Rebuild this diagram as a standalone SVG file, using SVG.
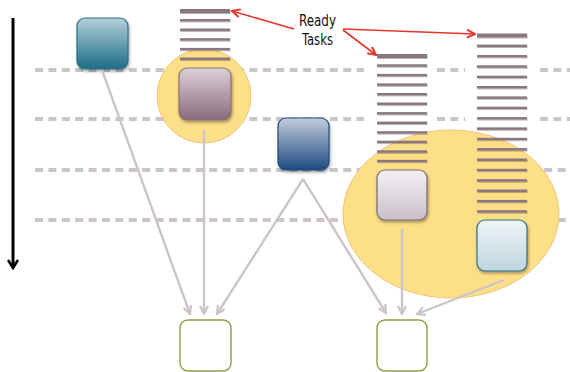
<svg xmlns="http://www.w3.org/2000/svg" width="570" height="372" viewBox="0 0 570 372">
<style>
.dash{stroke:#cbc4ca;stroke-width:4;stroke-dasharray:8 5.4;fill:none}
.conn{stroke:#cdc4ca;stroke-width:2.4;fill:none;marker-end:url(#gv)}
.red{stroke:#e2362a;stroke-width:1.6;fill:none;marker-end:url(#rv)}
.bar{fill:#8b7682}
.bar-t{fill:#8b7682}
.hl{fill:#fddf88;stroke:#f1c47c;stroke-width:1}
.out{fill:#fff;stroke:#8f9d45;stroke-width:1.4}
.lbl{font-family:"DejaVu Sans Condensed","Liberation Sans Narrow","Liberation Sans",sans-serif;font-size:16px;fill:#111;text-anchor:middle}
</style>
<defs>
<filter id="sh" x="-20%" y="-20%" width="150%" height="150%"><feDropShadow dx="1" dy="2" stdDeviation="1.4" flood-color="#000" flood-opacity="0.35"/></filter>
<filter id="bs" x="-5%" y="-50%" width="110%" height="250%"><feDropShadow dx="0.5" dy="1" stdDeviation="0.6" flood-color="#000" flood-opacity="0.3"/></filter>
<linearGradient id="gTeal" x1="0" y1="0" x2="0" y2="1"><stop offset="0" stop-color="#b4cfd9"/><stop offset="1" stop-color="#1d6d87"/></linearGradient>
<linearGradient id="gPur" x1="0" y1="0" x2="0" y2="1"><stop offset="0" stop-color="#ddd0d9"/><stop offset="1" stop-color="#896b7d"/></linearGradient>
<linearGradient id="gBlue" x1="0" y1="0" x2="0" y2="1"><stop offset="0" stop-color="#c4cddd"/><stop offset="1" stop-color="#1b4a81"/></linearGradient>
<linearGradient id="gLPur" x1="0" y1="0" x2="0" y2="1"><stop offset="0" stop-color="#f3f1f5"/><stop offset="1" stop-color="#cabec8"/></linearGradient>
<linearGradient id="gLBlue" x1="0" y1="0" x2="0" y2="1"><stop offset="0" stop-color="#eff4f7"/><stop offset="1" stop-color="#bfd4de"/></linearGradient>
<marker id="gv" viewBox="0 0 10 10" refX="9" refY="5" markerWidth="10" markerHeight="10" markerUnits="userSpaceOnUse" orient="auto"><path d="M1,1 L9,5 L1,9" fill="none" stroke="#cdc4ca" stroke-width="2.2"/></marker>
<marker id="rv" viewBox="0 0 10 10" refX="9" refY="5" markerWidth="10" markerHeight="10" markerUnits="userSpaceOnUse" orient="auto"><path d="M1,1 L9,5 L1,9" fill="none" stroke="#e2362a" stroke-width="2"/></marker>
<marker id="bk" viewBox="0 0 12 12" refX="10" refY="6" markerWidth="12" markerHeight="12" markerUnits="userSpaceOnUse" orient="auto"><path d="M2,1 L10,6 L2,11" fill="none" stroke="#000" stroke-width="2.6"/></marker>
</defs>

<g id="timeline">
<line x1="13" y1="18" x2="13" y2="268" stroke="#000" stroke-width="3" marker-end="url(#bk)"/>
</g>

<g id="levels">
<path class="dash" d="M35,70 H364 M437,70 H465 M540,70 H570"/>
<path class="dash" d="M35,119 H364 M437,119 H465 M540,119 H570"/>
<path class="dash" d="M35,170 H570"/>
<path class="dash" d="M35,220 H570"/>
</g>

<g id="highlight-1"><circle class="hl" cx="204" cy="96" r="47"/></g>
<g id="highlight-2"><ellipse class="hl" cx="451" cy="214" rx="108" ry="84"/></g>

<g id="tasks-1" filter="url(#bs)">
<rect class="bar" x="180" y="9" width="50" height="4"/>
<rect class="bar" x="180" y="19" width="50" height="2.4"/>
<rect class="bar" x="180" y="28.5" width="50" height="2.4"/>
<rect class="bar" x="180" y="38.2" width="50" height="2.4"/>
<rect class="bar" x="180" y="47.9" width="50" height="2.4"/>
<rect class="bar" x="180" y="57.5" width="50" height="2.4"/>
</g>

<g id="tasks-2" filter="url(#bs)">
<rect class="bar" x="377" y="54" width="50" height="4"/>
<rect class="bar" x="377" y="64.3" width="50" height="2.4"/>
<rect class="bar" x="377" y="73.9" width="50" height="2.4"/>
<rect class="bar" x="377" y="83.4" width="50" height="2.4"/>
<rect class="bar" x="377" y="93" width="50" height="2.4"/>
<rect class="bar" x="377" y="102.5" width="50" height="2.4"/>
<rect class="bar" x="377" y="112.1" width="50" height="2.4"/>
<rect class="bar" x="377" y="121.6" width="50" height="2.4"/>
<rect class="bar" x="377" y="131.2" width="50" height="2.4"/>
<rect class="bar" x="377" y="140.7" width="50" height="2.4"/>
<rect class="bar" x="377" y="150.3" width="50" height="2.4"/>
<rect class="bar" x="377" y="159.8" width="50" height="2.4"/>
</g>

<g id="tasks-3" filter="url(#bs)">
<rect class="bar" x="477" y="33.5" width="50" height="4"/>
<rect class="bar" x="477" y="44.6" width="50" height="2.4"/>
<rect class="bar" x="477" y="55" width="50" height="2.4"/>
<rect class="bar" x="477" y="65.3" width="50" height="2.4"/>
<rect class="bar" x="477" y="75.7" width="50" height="2.4"/>
<rect class="bar" x="477" y="86" width="50" height="2.4"/>
<rect class="bar" x="477" y="96.4" width="50" height="2.4"/>
<rect class="bar" x="477" y="106.7" width="50" height="2.4"/>
<rect class="bar" x="477" y="117.1" width="50" height="2.4"/>
<rect class="bar" x="477" y="127.4" width="50" height="2.4"/>
<rect class="bar" x="477" y="137.8" width="50" height="2.4"/>
<rect class="bar" x="477" y="148.1" width="50" height="2.4"/>
<rect class="bar" x="477" y="158.5" width="50" height="2.4"/>
<rect class="bar" x="477" y="168.8" width="50" height="2.4"/>
<rect class="bar" x="477" y="179.2" width="50" height="2.4"/>
<rect class="bar" x="477" y="189.5" width="50" height="2.4"/>
<rect class="bar" x="477" y="199.9" width="50" height="2.4"/>
<rect class="bar" x="477" y="210.2" width="50" height="2.4"/>
</g>

<g id="task-a"><rect x="77" y="18" width="51" height="51" rx="8" fill="url(#gTeal)" stroke="#2c6f87" stroke-width="1.2" filter="url(#sh)"/></g>
<g id="task-b"><rect x="179" y="68" width="52" height="52" rx="8" fill="url(#gPur)" stroke="#8b7468" stroke-width="1.2" filter="url(#sh)"/></g>
<g id="task-c"><rect x="278" y="118" width="51" height="52" rx="8" fill="url(#gBlue)" stroke="#22497a" stroke-width="1.2" filter="url(#sh)"/></g>
<g id="task-d"><rect x="377" y="170" width="50" height="50" rx="8" fill="url(#gLPur)" stroke="#7a6870" stroke-width="1.2" filter="url(#sh)"/></g>
<g id="task-e"><rect x="477" y="220" width="50" height="51" rx="8" fill="url(#gLBlue)" stroke="#2d7384" stroke-width="1.2" filter="url(#sh)"/></g>

<g id="join-1"><rect class="out" x="180" y="320" width="51" height="51" rx="8"/></g>
<g id="join-2"><rect class="out" x="377" y="320" width="50" height="51" rx="8"/></g>

<g id="label">
<text class="lbl" x="317.5" y="26" textLength="37" lengthAdjust="spacingAndGlyphs">Ready</text>
<text class="lbl" x="317.5" y="45" textLength="31" lengthAdjust="spacingAndGlyphs">Tasks</text>
</g>

<g id="connectors">
<line class="conn" x1="102" y1="70" x2="190" y2="314"/>
<line class="conn" x1="204" y1="130" x2="204" y2="314"/>
<path class="conn" d="M303,179 L217,314" style="marker-end:url(#gv)"/>
<line class="conn" x1="303" y1="179" x2="386" y2="313"/>
<line class="conn" x1="402" y1="229" x2="402" y2="314"/>
<line class="conn" x1="504" y1="280" x2="417" y2="314"/>
<line class="red" x1="294" y1="29" x2="232" y2="11"/>
<line class="red" x1="343" y1="29" x2="475" y2="34"/>
<line class="red" x1="343" y1="30" x2="376" y2="55"/>
</g>
</svg>
